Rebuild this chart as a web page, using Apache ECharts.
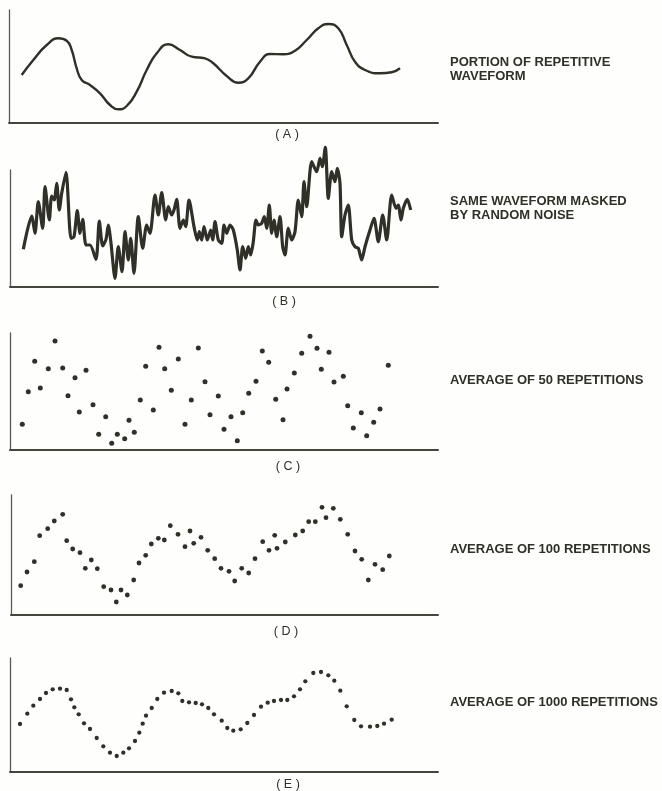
<!DOCTYPE html>
<html>
<head>
<meta charset="utf-8">
<script src="https://cdn.jsdelivr.net/npm/echarts@6/dist/echarts.min.js"></script>
<style>
  html, body { margin: 0; padding: 0; background: #fefefc; }
  #main { width: 662px; height: 791px; }
</style>
</head>
<body>
<div id="main"></div>
<script>
// time runs 0..428 across each panel, amplitude is height above the baseline

// (A) portion of repetitive waveform
var tA = [12.7, 24.3, 37.7, 49.3, 57.7, 62.7, 67.7, 72.7, 81, 91, 101, 109.3, 117.7, 127.7, 137.7, 147.7,
  159.3, 171, 182.7, 196, 204.3, 217.7, 229.3, 239.3, 251, 261, 274.3, 286, 297.7, 309.3, 319.3, 329.3,
  337.7, 346, 356, 371, 382.7, 391]
var vA = [47.5, 62.5, 77.5, 84.2, 81.8, 72.5, 54.2, 42.5, 37.5, 29.2, 17.5, 13.2, 16.5, 30.8, 52.5, 69.2,
  78.2, 72.5, 65.8, 64.2, 59.2, 46.5, 39.8, 44.2, 60.8, 68.5, 68.2, 71.8, 82.5, 94.2, 98.5, 94.2,
  77.5, 60.8, 52.5, 49.2, 50.2, 54.2]

// (B) same waveform masked by random noise
var tB = [13.3, 21.7, 25, 28.3, 32.7, 35, 39.3, 41.7, 44.3, 46.7, 49.3, 51.7, 56, 61, 64, 67.3, 70, 72.7,
  76, 80, 86, 89.3, 92.7, 96, 98.3, 101, 105, 108.3, 112, 115, 118.3, 120.7, 124, 128.3, 132.7, 136.7,
  140, 145, 148.3, 151.7, 155.7, 158.3, 161.7, 164, 166.7, 170, 173.3, 175.7, 179, 184, 187.3, 189.3,
  191.7, 194, 197.3, 200.7, 202.7, 205, 208.3, 211.7, 214, 216.7, 220, 223.3, 227.3, 230, 232.7, 235.7,
  238.3, 240.7, 243.3, 246, 248.3, 251.7, 254.3, 256.7, 259.3, 261.7, 264, 266.7, 270, 272.7, 275,
  278.3, 281.7, 285, 288.3, 291.7, 294, 296.7, 301.7, 306.7, 310, 312.3, 315.3, 318.3, 321.7, 325,
  327.3, 330, 331.7, 335, 338.3, 341.7, 345, 348.3, 351.7, 355, 360, 364, 368.3, 372.7, 376.7, 381.7,
  386, 388.3, 391, 393.3, 397.3, 400.7]
var vB = [37.7, 71, 53.7, 85.3, 58.7, 100.3, 67, 91, 87, 103.7, 77, 93.7, 114.7, 48.7, 50.3, 76.3, 53.7,
  67.7, 42, 42, 27.7, 66, 41, 47.7, 62, 43.7, 8.7, 40.3, 15.3, 55.3, 27, 48.7, 13.7, 70.3, 38.7, 62,
  53.7, 92, 72, 94.3, 67, 80.3, 72, 77, 87.7, 58.7, 67, 60.3, 87, 60.3, 47, 55.3,
  47, 60.3, 47, 57, 47, 65.3, 47, 43.7, 62, 53.7, 62, 57, 37, 17, 40.3, 28.7,
  40.3, 32, 45.3, 67, 62, 63.7, 70.3, 58.7, 82, 53.7, 67, 50.3, 70.3, 40.3, 32,
  58.7, 47, 55.3, 87, 70.3, 105.3, 80.3, 125.3, 115.3, 128.7, 120.3, 139.7, 88.7, 115.3, 105.3,
  118.7, 103.7, 50.3, 72, 82, 47, 40.3, 38.7, 27, 40.3, 57, 68.7, 45.3, 72, 47, 92,
  78.7, 82, 67, 78.7, 87.7, 77]

// (C) average of 50 repetitions
var tC = [12.3, 18.3, 24.7, 30.3, 38.3, 45, 52.7, 58, 65, 69.3, 76, 83, 88.7, 95.7, 101.7, 107.3, 114.7,
  119, 124.3, 130.3, 135.7, 143.3, 149, 154.7, 161.3, 168.3, 175, 181.3, 188.3, 195, 200, 208.3, 214,
  221, 227.3, 232.7, 238.7, 246, 252.3, 258.7, 265.7, 273, 277, 284.3, 291.7, 300, 307, 311.3, 319,
  324, 333.3, 337.7, 343.3, 351.3, 356.7, 363.7, 370, 378.3]
var vC = [25.7, 58.3, 88.7, 62, 81.3, 109, 82, 54.3, 72.3, 38, 79.7, 45.3, 15.7, 33.3, 6.7, 15.7, 11.3,
  29.7, 17.7, 50, 83.7, 40, 102.7, 81.3, 59.7, 91, 25.7, 50, 102, 68.3, 35.3, 54, 20.7,
  33.3, 9.3, 37.3, 56.7, 68.7, 99, 87.7, 50.7, 30.3, 61, 77, 96.7, 113.7, 101.7, 80.7, 97.7,
  68, 73.7, 44.3, 22, 37.3, 14.3, 27.7, 41, 84.7]

// (D) average of 100 repetitions
var tD = [9.7, 16, 23.3, 28.7, 36.7, 43.3, 51.7, 55.7, 61.7, 69, 74.3, 80.3, 86.3, 92.7, 100, 105.3, 110,
  116.3, 122.7, 128, 134.7, 140.3, 147.3, 153.3, 159.3, 167, 174, 179, 182.7, 190, 196.7, 203.7, 210,
  218, 223.7, 230.7, 237.7, 244, 251.7, 258, 263.7, 266, 274.3, 284.3, 291.7, 297.7, 304.3, 311, 315,
  322.3, 329.3, 336.7, 344, 350.7, 357.3, 364, 371.7, 378.3]
var vD = [29.3, 43, 53.3, 79.3, 86.3, 94, 100.7, 74.3, 66, 62.3, 46.7, 55, 46.3, 28.3, 25, 13, 25,
  20, 35, 52, 59.7, 71, 76.7, 75, 89.3, 80.7, 68.3, 84, 71.7, 77.7, 64.7, 56.3, 46.7,
  43.7, 34, 46.7, 42, 56.3, 73.3, 64.7, 79.7, 66.7, 73, 80, 84, 93.3, 93.3, 107.7, 97.3,
  106.7, 95.7, 80.7, 64, 55.7, 35, 50.7, 45.3, 59]

// (E) average of 1000 repetitions
var tE = [10, 17.3, 23.3, 30, 36, 42.7, 50, 56.7, 61, 64.3, 68.7, 74, 80, 86.7, 93.3, 100, 106.7, 113.3,
  119, 125, 129.3, 132.7, 136, 141.7, 147.3, 154, 161.7, 168.3, 172.3, 179, 185.7, 192, 198.3, 204,
  211.7, 217.3, 223.3, 230.7, 237.3, 244, 251, 257.7, 264, 271, 277.3, 284, 290, 295.3, 303.3, 311,
  318.3, 324.3, 330.3, 336.7, 344.3, 351, 360, 367.3, 374, 381.7]
var vE = [48, 58.3, 66.3, 73, 79, 82.7, 83.3, 82, 72.7, 64.7, 57.7, 48.7, 43, 34, 25.7, 19.3, 16, 19.3,
  23.7, 31, 39.3, 48.3, 56.3, 64, 73, 79.3, 81, 78.7, 71, 69.7, 69, 67.7, 64, 57.7,
  51.3, 44, 41.3, 42.7, 49, 57, 65.3, 69.3, 71, 72, 72, 75.7, 82.7, 90.7, 99, 100,
  96.7, 91.3, 81.3, 65.7, 52, 45.7, 45.3, 46, 48.3, 52.3]

var panelLabels = ['( A )', '( B )', '( C )', '( D )', '( E )']
var captions = [
  'PORTION OF REPETITIVE\nWAVEFORM',
  'SAME WAVEFORM MASKED\nBY RANDOM NOISE',
  'AVERAGE OF 50 REPETITIONS',
  'AVERAGE OF 100 REPETITIONS',
  'AVERAGE OF 1000 REPETITIONS'
]

var ink = '#303029'

function pairs(t, v) {
  return t.map(function(x, i) {
    return [x, v[i]]
  })
}

// panel boxes: left, top, width, height of each little axis frame
var boxes = [
  { left: 9, top: 10, width: 429, height: 112.5 },
  { left: 10, top: 170, width: 428, height: 117 },
  { left: 10, top: 333, width: 428, height: 117 },
  { left: 11, top: 495, width: 427, height: 120 },
  { left: 10, top: 658, width: 428, height: 114 }
]
var labelPos = [[287, 135], [284, 302], [288, 467], [286, 632], [288, 785]]
var captionTop = [55, 194, 373, 542, 695]

var chart = echarts.init(document.getElementById('main'))

var grids = []
var xAxes = []
var yAxes = []
boxes.forEach(function(b, i) {
  grids.push({ left: b.left, top: b.top, width: b.width, height: b.height, containLabel: false })
  xAxes.push({
    type: 'value', gridIndex: i, min: 0, max: b.width,
    axisLine: { show: true, onZero: false, lineStyle: { color: '#45453d', width: 2 } },
    axisTick: { show: false }, axisLabel: { show: false }, splitLine: { show: false }
  })
  yAxes.push({
    type: 'value', gridIndex: i, min: 0, max: b.height,
    axisLine: { show: true, onZero: false, lineStyle: { color: '#5a5a52', width: 1.3 } },
    axisTick: { show: false }, axisLabel: { show: false }, splitLine: { show: false }
  })
})

var graphics = []
panelLabels.forEach(function(txt, i) {
  graphics.push({
    type: 'text', x: labelPos[i][0], y: labelPos[i][1],
    style: {
      text: txt, fill: ink, font: '12.5px "Liberation Sans", Arial, sans-serif',
      align: 'center', verticalAlign: 'middle', textAlign: 'center', textVerticalAlign: 'middle'
    }
  })
})
captions.forEach(function(txt, i) {
  graphics.push({
    type: 'text', x: 450, y: captionTop[i],
    style: {
      text: txt, fill: ink, font: 'bold 13px "Liberation Sans", Arial, sans-serif', lineHeight: 14
    }
  })
})

chart.setOption({
  backgroundColor: '#fefefc',
  animation: false,
  grid: grids,
  xAxis: xAxes,
  yAxis: yAxes,
  graphic: graphics,
  series: [
    {
      type: 'line', xAxisIndex: 0, yAxisIndex: 0, data: pairs(tA, vA),
      smooth: true, showSymbol: false, clip: false,
      lineStyle: { color: ink, width: 2.4 }
    },
    {
      type: 'line', xAxisIndex: 1, yAxisIndex: 1, data: pairs(tB, vB),
      smooth: 0.25, showSymbol: false, clip: false,
      lineStyle: { color: ink, width: 3.2 }
    },
    {
      type: 'scatter', xAxisIndex: 2, yAxisIndex: 2, data: pairs(tC, vC),
      symbolSize: 5, clip: false, itemStyle: { color: ink, opacity: 1 }
    },
    {
      type: 'scatter', xAxisIndex: 3, yAxisIndex: 3, data: pairs(tD, vD),
      symbolSize: 4.8, clip: false, itemStyle: { color: ink, opacity: 1 }
    },
    {
      type: 'scatter', xAxisIndex: 4, yAxisIndex: 4, data: pairs(tE, vE),
      symbolSize: 4.3, clip: false, itemStyle: { color: ink, opacity: 1 }
    }
  ]
})
</script>
</body>
</html>
